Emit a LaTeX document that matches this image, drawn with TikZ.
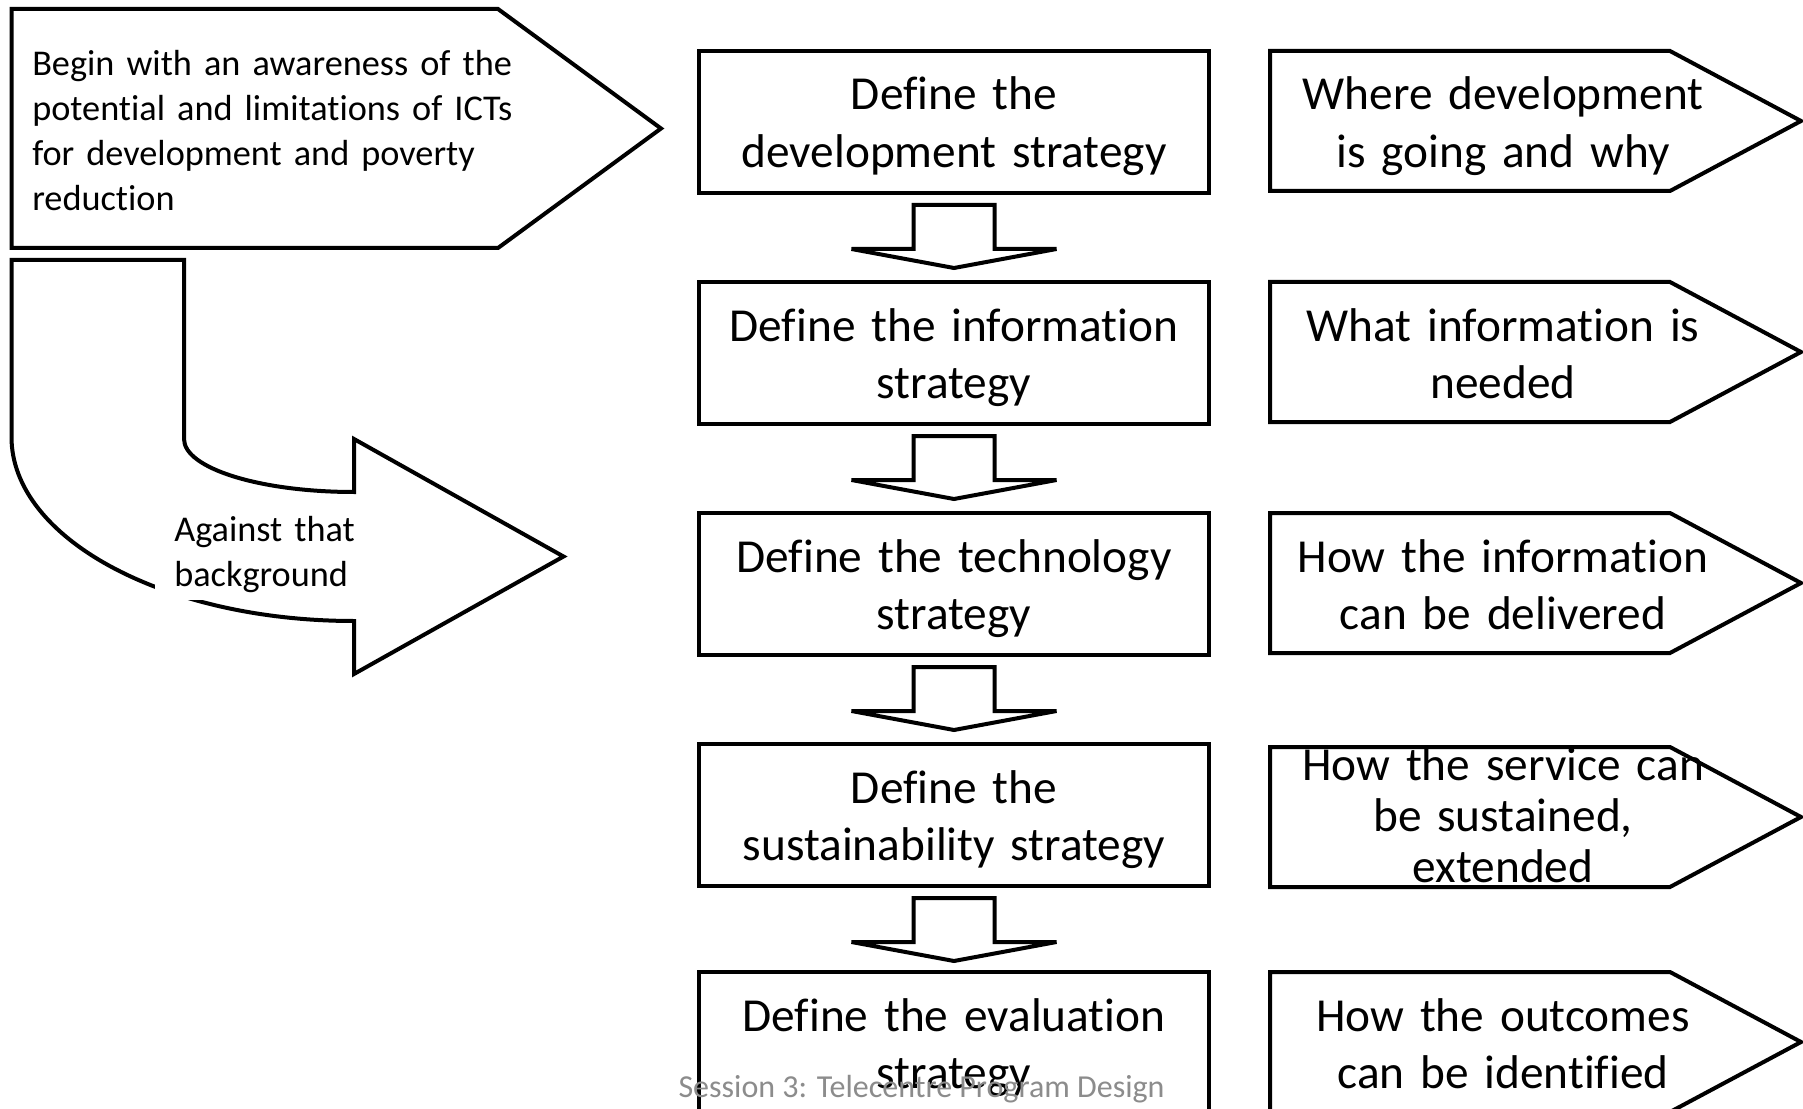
\documentclass[tikz,border=0pt]{standalone}
\usepackage{fontspec}
\setmainfont{Carlito}[Ligatures=NoCommon]
\usetikzlibrary{calc}
\definecolor{footgrey}{HTML}{8C8C8C}
\tikzset{
  outline/.style={draw=black, line width=3pt, fill=white},
  stratbox/.style={outline, rectangle, minimum width=382.5pt, minimum height=106.5pt, inner sep=0pt},
  maintext/.style={inner sep=0pt, text width=400pt, align=center, anchor=base, font=\fontsize{35.5}{43}\selectfont},
  smalltext/.style={inner sep=0pt, align=left, anchor=base west, font=\fontsize{27.2}{33.75}\selectfont},
  foottext/.style={inner sep=0pt, anchor=base, text=footgrey, font=\fontsize{24}{29}\selectfont},
  downarr/.pic={\draw[outline] (-40.5,0) -- (40.5,0) -- (40.5,44) -- (102.5,44) -- (0,63) -- (-102.5,44) -- (-40.5,44) -- cycle;}
}
\begin{document}
\begin{tikzpicture}[x=0.75pt,y=-0.75pt]
\useasboundingbox (0,0) rectangle (1803,1109);
% intro pentagon
\draw[outline] (11.5,9) -- (498,9) -- (661,128.5) -- (498,248) -- (11.5,248) -- cycle;
% curved arrow
\draw[outline] (11.5,260) -- (184,260) -- (184,439) .. controls (184,468.3) and (260,492) .. (354,492) -- (354,439) -- (563.5,556.5) -- (354,674) -- (354,621) .. controls (164.8,621) and (11.5,538.6) .. (11.5,437) -- cycle;
% strategy boxes
\node[stratbox] (d1) at (954,122) {};
\node[stratbox] (d2) at (954,353) {};
\node[stratbox] (d3) at (954,584) {};
\node[stratbox] (d4) at (954,815) {};
\node[stratbox] (d5) at (954,1043) {};
% block arrows between boxes
\pic at ($(d1.south)+(0,10)$) {downarr};
\pic at ($(d2.south)+(0,10)$) {downarr};
\pic at ($(d3.south)+(0,10)$) {downarr};
\pic at ($(d4.south)+(0,10)$) {downarr};
% right pentagons
\foreach \t in {51,282,513,747,972}{
  \draw[outline] (1270,\t) -- (1670,\t) -- (1801,\t+70) -- (1670,\t+140) -- (1270,\t+140) -- cycle;
}
% texts
\node[smalltext, text width=390pt] (intro) at (32,75.5) {Begin with an awareness of the\\potential and limitations of ICTs\\for development and poverty\\reduction};
\node[smalltext, text width=140pt, fill=white, inner xsep=14.25pt, inner ysep=6pt] (against) at (155,541) {Against that\\background};
\node[maintext] (dt1) at (954,110) {Define the\\development strategy};
\node[maintext] (dt2) at (954,341) {Define the information\\strategy};
\node[maintext] (dt3) at (954,572) {Define the technology\\strategy};
\node[maintext] (dt4) at (954,803) {Define the\\sustainability strategy};
\node[maintext] (dt5) at (954,1031) {Define the evaluation\\strategy};
\node[maintext] (r1) at (1503,110) {Where development\\is going and why};
\node[maintext] (r2) at (1503,341) {What information is\\needed};
\node[maintext] (r3) at (1503,572) {How the information\\can be delivered};
\node[maintext, font=\fontsize{35.5}{38.3}\selectfont] (r4) at (1503,780.5) {How the service can\\be sustained,\\extended};
\node[maintext] (r5) at (1503,1031) {How the outcomes\\can be identified};
\node[foottext] (footer) at (921.5,1097) {Session 3: Telecentre Program Design};
\node[foottext] (pnum) at (1757,1131) {9};
\end{tikzpicture}
\end{document}
